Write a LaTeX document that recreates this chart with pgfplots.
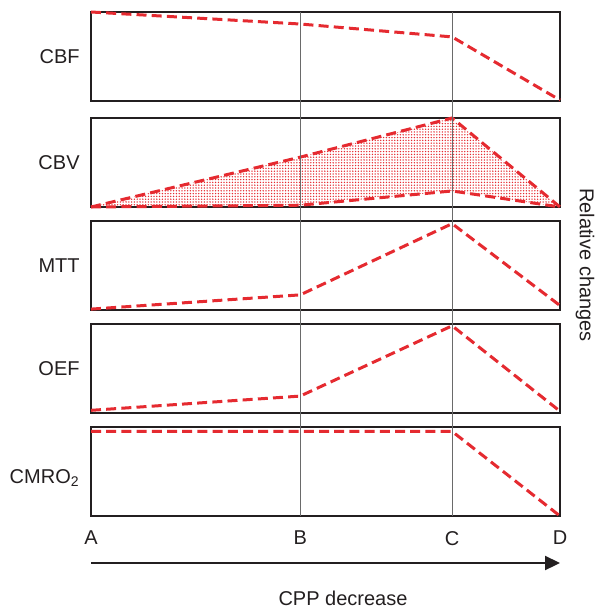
\documentclass[border=0pt]{standalone}
\usepackage{fontspec}
\setmainfont{Liberation Sans}
\usepackage{pgfplots}
\pgfplotsset{compat=1.18}
\usetikzlibrary{arrows.meta,patterns.meta}
\definecolor{cred}{HTML}{E52A30}
\definecolor{ctext}{HTML}{231F20}
\definecolor{cguide}{HTML}{6A6A6A}

\pgfplotsset{
  panel/.style={
    scale only axis, width=234.5pt, height=44.5pt,
    anchor=north west,
    xmin=0, xmax=1, ymin=0, ymax=1,
    xtick=\empty, ytick=\empty,
    axis line style={ctext, line width=1pt},
    clip=false,
  },
  curve/.style={cred, line width=1.5pt, dash pattern=on 5pt off 2.6pt},
}

\begin{document}
\begin{tikzpicture}[font=\fontsize{10}{12}\selectfont, color=ctext]
\path (-45.5pt,0) rectangle (251pt,-304pt);

% CBF
\begin{axis}[panel, at={(0pt,-6pt)}]
  \addplot[curve] coordinates {(0,1) (0.446,0.865) (0.77,0.72) (1,0.01)};
  \node[anchor=east, inner sep=0pt, xshift=-5.5pt] at (axis description cs:0,0.5) {CBF};
  \coordinate (Btop) at (axis cs:0.446,1);
  \coordinate (Ctop) at (axis cs:0.77,1);
\end{axis}

% CBV
\begin{axis}[panel, at={(0pt,-59pt)}]
  \addplot[draw=none, pattern={Dots[distance=1.4pt, radius=0.38pt]}, pattern color=cred]
    coordinates {(0,0) (0.446,0.56) (0.77,1) (1,0) (0.77,0.18) (0.446,0.02) (0,0)};
  \addplot[curve] coordinates {(0,0) (0.446,0.56) (0.77,1) (1,0)};
  \addplot[curve] coordinates {(0,0) (0.446,0.02) (0.77,0.18) (1,0)};
  \node[anchor=east, inner sep=0pt, xshift=-5.5pt] at (axis description cs:0,0.5) {CBV};
\end{axis}

% MTT
\begin{axis}[panel, at={(0pt,-110.5pt)}]
  \addplot[curve] coordinates {(0,0.01) (0.446,0.17) (0.77,0.97) (1,0.05)};
  \node[anchor=east, inner sep=0pt, xshift=-5.5pt] at (axis description cs:0,0.5) {MTT};
\end{axis}

% OEF
\begin{axis}[panel, at={(0pt,-162pt)}]
  \addplot[curve] coordinates {(0,0.03) (0.446,0.19) (0.77,0.98) (1,0.02)};
  \node[anchor=east, inner sep=0pt, xshift=-5.5pt] at (axis description cs:0,0.5) {OEF};
\end{axis}

% CMRO2
\begin{axis}[panel, at={(0pt,-213.5pt)},
    xtick={0,0.446,0.77,1}, xticklabels={A,B,C,D},
    major tick length=0pt,
    xticklabel style={font=\fontsize{10}{12}\selectfont, text=ctext, yshift=-4pt}]
  \addplot[curve] coordinates {(0,0.95) (0.446,0.95) (0.77,0.95) (1,0)};
  \node[anchor=east, inner sep=0pt, xshift=-5.5pt, yshift=-3.5pt] at (axis description cs:0,0.5) {CMRO\textsubscript{2}};
  \coordinate (Bbot) at (axis cs:0.446,0);
  \coordinate (Cbot) at (axis cs:0.77,0);
\end{axis}

\draw[cguide, line width=0.6pt] (Btop) -- (Bbot);
\draw[cguide, line width=0.6pt] (Ctop) -- (Cbot);

\draw[ctext, line width=1.1pt, -{Triangle[length=7.5pt, width=7pt]}] (0pt,-281.5pt) -- (234.5pt,-281.5pt);
\node[inner sep=1pt] at (126pt,-299pt) {CPP decrease};
\node[rotate=-90, inner sep=1pt] at (247pt,-132.5pt) {Relative changes};
\end{tikzpicture}
\end{document}
